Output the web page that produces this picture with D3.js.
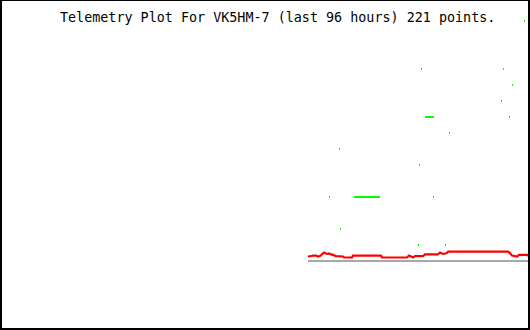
<!DOCTYPE html>
<html>
<head>
<meta charset="utf-8">
<script src="https://cdn.jsdelivr.net/npm/d3@7"></script>
<style>
html,body{margin:0;padding:0;background:#fff;}
svg{display:block;}
</style>
</head>
<body>
<svg id="chart" width="530" height="330"></svg>
<script>
const titleText = "Telemetry Plot For VK5HM-7 (last 96 hours) 221 points.";

// red series: [hours relative to now, value]
const redHours = [-40.15,-39.60,-39.24,-38.69,-38.33,-37.96,-37.23,-36.68,-36.32,-35.95,-35.59,-35.04,-33.76,-33.58,-32.12,-31.94,-26.83,-26.65,-22.08,-21.72,-21.35,-20.99,-20.62,-19.16,-18.80,-16.43,-16.06,-15.51,-14.78,-14.60,-3.65,-3.29,-2.92,-2.01,-1.64,-0.18,0];
const redValues = [0.28,0.31,0.34,0.34,0.28,0.31,0.53,0.44,0.47,0.41,0.38,0.31,0.28,0.22,0.22,0.34,0.34,0.22,0.22,0.34,0.28,0.22,0.31,0.31,0.41,0.41,0.53,0.44,0.50,0.59,0.59,0.50,0.34,0.28,0.38,0.38,0.31];

// green series: [hours, level]
const greenHours = [-0.73,-19.53,-4.56,-2.92,-4.93,
  -18.80,-18.62,-18.43,-18.25,-18.07,-17.89,-17.70,-17.52,-17.34,
  -3.47,-14.42,-34.49,-19.89,-36.32,
  -31.76,-31.57,-31.39,-31.21,-31.03,-30.84,-30.66,-30.48,-30.30,-30.11,-29.93,-29.75,-29.57,-29.38,-29.20,-29.02,-28.84,-28.65,-28.47,-28.29,-28.11,-27.92,-27.74,-27.56,-27.38,-27.19,
  -17.34,-34.31,-20.08,-15.15];
const greenValues = [15,12,12,11,10,
  9,9,9,9,9,9,9,9,9,
  9,8,7,6,4,
  4,4,4,4,4,4,4,4,4,4,4,4,4,4,4,4,4,4,4,4,4,4,4,4,4,4,
  4,2,1,1];

const W = 530, H = 330;
const svg = d3.select("#chart");

const x = d3.scaleLinear().domain([-96, 0]).range([2, 528]);
const y = d3.scaleLinear().domain([0, 15]).range([261, 21]);

// border
svg.append("line").attr("x1",0).attr("x2",W).attr("y1",0.5).attr("y2",0.5).attr("stroke","#000").attr("stroke-width",1);
svg.append("line").attr("x1",1).attr("x2",1).attr("y1",0).attr("y2",H).attr("stroke","#000").attr("stroke-width",2);
svg.append("line").attr("x1",529).attr("x2",529).attr("y1",0).attr("y2",H).attr("stroke","#000").attr("stroke-width",2);
svg.append("line").attr("x1",0).attr("x2",W).attr("y1",329).attr("y2",329).attr("stroke","#000").attr("stroke-width",2);

// title
svg.append("text").attr("x",60).attr("y",22)
  .attr("font-family","'DejaVu Sans Mono', monospace").attr("font-size",13.4)
  .attr("fill","#000").text(titleText);

// baseline
svg.append("line")
  .attr("x1", x(d3.min(redHours))).attr("x2", 528)
  .attr("y1", y(0)).attr("y2", y(0))
  .attr("stroke","#a8a8a8").attr("stroke-width",2);

// red line
const redData = redHours.map((h,i)=>[h, redValues[i]]);
svg.append("path").datum(redData)
  .attr("d", d3.line().x(d=>x(d[0])).y(d=>y(d[1])))
  .attr("fill","none").attr("stroke","#ff0000").attr("stroke-width",2.2);

// green points
const greenData = greenHours.map((h,i)=>[h, greenValues[i]]);
svg.selectAll("rect.g").data(greenData).enter().append("rect")
  .attr("class","g")
  .attr("x", d=>Math.round(x(d[0])))
  .attr("y", d=>Math.round(y(d[1]))-1)
  .attr("width",1).attr("height",2)
  .attr("fill","#00ff00");
</script>
</body>
</html>
